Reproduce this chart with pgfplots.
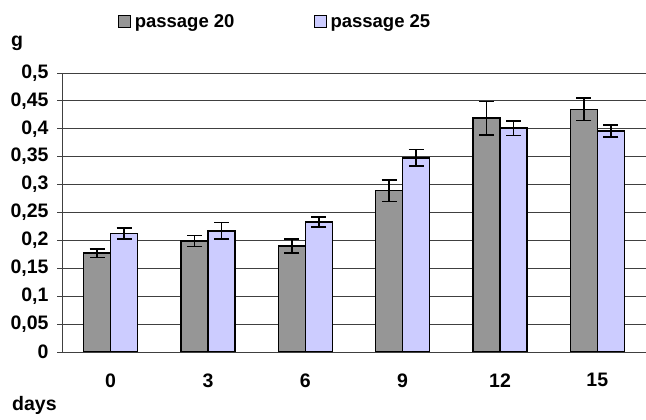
\documentclass[border=0pt]{standalone}
\usepackage{pgfplots}
\pgfplotsset{compat=1.18}
\usepackage{pgfplotstable}
\usepackage{fontspec}
\setmainfont{Liberation Sans}

\definecolor{pgray}{HTML}{969696}
\definecolor{pblue}{HTML}{CCCCFF}
\newcommand\lblfont{\fontsize{19.5bp}{22bp}\selectfont\bfseries}

% days 0,3,6,9,12,15 at positions 0..5
\pgfplotstableread{
x y e
0 0.177 0.008
1 0.199 0.010
2 0.190 0.013
3 0.289 0.019
4 0.419 0.030
5 0.435 0.020
}\passtwenty

\pgfplotstableread{
x y e
0 0.212 0.010
1 0.217 0.015
2 0.233 0.009
3 0.348 0.015
4 0.401 0.013
5 0.396 0.011
}\passtwentyfive

\begin{document}
\begin{tikzpicture}
\path[use as bounding box] (0,0) rectangle (646bp,420bp);
\begin{axis}[
    at={(62bp,68bp)}, anchor=south west,
    scale only axis, width=584bp, height=279bp,
    xmin=-0.5, xmax=5.5, ymin=0, ymax=0.5,
    ybar=0pt, bar width=27bp,
    axis x line*=bottom, axis y line*=left,
    axis line style={line width=0.8bp, black!75},
    xtick={0,...,5},
    xticklabels={0,3,6,9,12,15},
    x tick label style={yshift=-13bp, font=\lblfont},
    major x tick style={draw=none},
    extra x ticks={-0.5,0.5,1.5,2.5,3.5,4.5},
    extra x tick labels={},
    extra x tick style={major tick length=5bp, tick align=outside,
        tick style={draw=black!75, line width=0.8bp}},
    ytick={0,0.05,0.1,0.15,0.2,0.25,0.3,0.35,0.4,0.45,0.5},
    yticklabels={0,{0,05},{0,1},{0,15},{0,2},{0,25},{0,3},{0,35},{0,4},{0,45},{0,5}},
    y tick label style={xshift=-5bp, font=\lblfont},
    ymajorgrids,
    major grid style={line width=0.8bp, black!75},
    y tick style={line width=0.8bp, black!75},
    major tick length=5bp, tick align=outside,
    error bars/y dir=both, error bars/y explicit,
    error bars/error mark options={rotate=90, mark size=7.5bp, line width=1.6bp},
    error bars/error bar style={line width=1.6bp, black},
    legend columns=2,
    legend style={at={(0.096,1.185)}, anchor=west, draw=none, fill=none,
        font=\fontsize{18.5bp}{21bp}\selectfont\bfseries,
        inner sep=0pt,
        nodes={inner xsep=3.5bp},
        /tikz/every even column/.append style={column sep=76bp}},
    legend image code/.code={\draw[#1, line width=1bp] (0bp,-6bp) rectangle (12bp,6bp);},
]
\addplot[fill=pgray, draw=black, line width=1.5bp] table[x=x, y=y, y error=e] {\passtwenty};
\addplot[fill=pblue, draw=black, line width=1.5bp] table[x=x, y=y, y error=e] {\passtwentyfive};
\legend{passage 20, passage 25}
\end{axis}
\node[font=\lblfont] at (17bp,377bp) {g};
\node[font=\lblfont, anchor=west, inner sep=0pt] at (12bp,15bp) {days};
\end{tikzpicture}
\end{document}
